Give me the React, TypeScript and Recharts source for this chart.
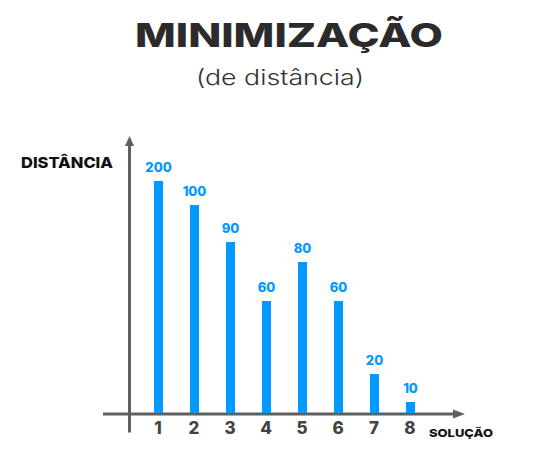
import { BarChart, Bar, XAxis, YAxis, LabelList, usePlotArea } from 'recharts';

// soluções no eixo x
const solutions = ['1', '2', '3', '4', '5', '6', '7', '8'];
// altura desenhada de cada barra (a figura não é proporcional aos rótulos)
const barHeights = [232, 208, 171, 112, 151, 112, 39, 11];
// valores escritos em cima das barras
const distanceLabels = [200, 100, 90, 60, 80, 60, 20, 10];

const chartData = solutions.map((s, i) => ({
  solution: s,
  height: barHeights[i],
  label: distanceLabels[i],
}));

const BLUE = '#0099ff';
const AXIS = '#5f5f5f';
const FONT = 'Inter, "DejaVu Sans", sans-serif';

function AxisDecor() {
  const plot = usePlotArea();
  if (!plot) return null;
  const left = plot.x;
  const right = plot.x + plot.width;
  const top = plot.y;
  const bottom = plot.y + plot.height;
  const yAxisX = left + 26.5;
  const xAxisY = bottom + 1;
  return (
    <g>
      <line x1={left} y1={xAxisY} x2={right - 11} y2={xAxisY} stroke={AXIS} strokeWidth={3} />
      <polygon points={`${right - 12},${xAxisY - 4.5} ${right},${xAxisY} ${right - 12},${xAxisY + 4.5}`} fill={AXIS} />
      <line x1={yAxisX} y1={bottom + 19.5} x2={yAxisX} y2={top + 9} stroke={AXIS} strokeWidth={3} />
      <polygon points={`${yAxisX - 4.5},${top + 10} ${yAxisX},${top} ${yAxisX + 4.5},${top + 10}`} fill={AXIS} />
      <text x={21} y={167.5} fontFamily={FONT} fontWeight={800} fontSize={15} fill="#111" textLength={92} lengthAdjust="spacingAndGlyphs">
        DISTÂNCIA
      </text>
      <text x={429} y={437} fontFamily={FONT} fontWeight={800} fontSize={11} fill="#111" textLength={64} lengthAdjust="spacingAndGlyphs">
        SOLUÇÃO
      </text>
      <text x={289} y={47} textAnchor="middle" fontFamily={FONT} fontWeight={800} fontSize={33} fill="#2b2b2b" textLength={308} lengthAdjust="spacingAndGlyphs">
        MINIMIZAÇÃO
      </text>
      <text x={280} y={85} textAnchor="middle" fontFamily={FONT} fontWeight={300} fontSize={22} fill="#333" textLength={168} lengthAdjust="spacingAndGlyphs">
        (de distância)
      </text>
    </g>
  );
}

const renderTick = (props: any) => {
  const { x, y, payload } = props;
  return (
    <text x={x} y={y + 13} textAnchor="middle" fontFamily={FONT} fontWeight={800} fontSize={17} fill="#444">
      {payload.value}
    </text>
  );
};

const renderLabel = (props: any) => {
  const { x, y, width, value } = props;
  return (
    <text x={x + width / 2} y={y - 9.5} textAnchor="middle" fontFamily={FONT} fontWeight={800} fontSize={13} fill={BLUE}>
      {value}
    </text>
  );
};

export default function App() {
  return (
    <div style={{ position: 'absolute', left: 0, top: 0, width: 538, height: 464, background: '#fff' }}>
      <BarChart width={538} height={464} data={chartData} margin={{ top: 136, right: 73, bottom: 0, left: 103 }}>
        <XAxis
          dataKey="solution"
          height={51}
          axisLine={false}
          tickLine={false}
          tick={renderTick}
          padding={{ left: 37, right: 37 }}
          interval={0}
        />
        <YAxis hide domain={[0, 277]} />
        <Bar dataKey="height" fill={BLUE} barSize={9} isAnimationActive={false}>
          <LabelList dataKey="label" content={renderLabel} />
        </Bar>
        <AxisDecor />
      </BarChart>
    </div>
  );
}
